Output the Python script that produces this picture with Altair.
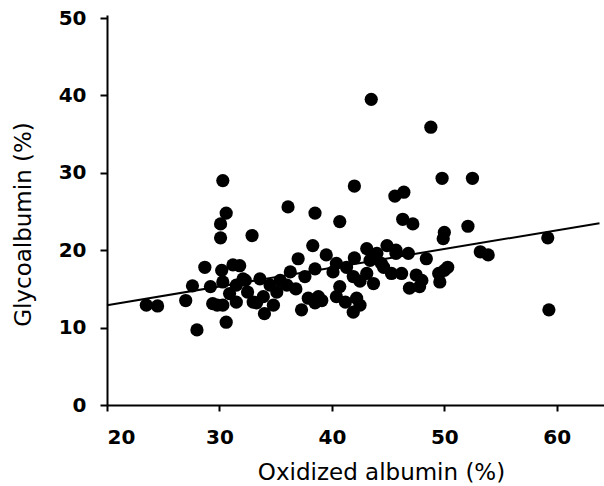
import altair as alt
import pandas as pd

# Oxidized albumin (%) and Glycoalbumin (%)
ox = [43.5, 48.8, 30.3, 49.8, 52.5, 42.0, 45.6, 46.4, 36.1, 30.6,
      38.5, 40.7, 46.3, 47.2, 52.1, 50.0, 49.9, 30.1, 30.1, 32.9,
      59.2, 38.3, 53.2, 53.9, 39.5, 48.4, 59.3, 28.0, 30.6, 23.5,
      24.5, 27.0, 27.6,
      28.7, 30.2, 31.2, 31.8, 29.2, 30.3, 30.9, 31.5, 32.1, 29.4,
      30.3, 29.8, 31.5, 33.0, 32.5, 33.6, 34.5, 34.0, 34.8, 35.1,
      36.0, 36.3, 37.0, 37.6, 38.5, 37.3, 37.9, 38.8, 33.3, 32.3,
      35.4, 33.9, 36.8, 38.5,
      43.1, 44.9, 45.7, 46.8, 40.4, 41.3, 43.4, 43.1, 44.6, 45.3,
      46.2, 40.1, 41.9, 43.7, 40.7, 40.4, 41.2, 42.2, 42.5, 41.9,
      39.1, 47.5, 48.0, 46.9, 47.8, 49.5, 50.3, 49.6, 50.0, 44.0,
      42.5, 44.4, 45.7, 42.0]
gly = [39.5, 35.9, 29.0, 29.3, 29.3, 28.3, 27.0, 27.5, 25.6, 24.8,
       24.8, 23.7, 24.0, 23.4, 23.1, 22.3, 21.5, 23.4, 21.6, 21.9,
       21.6, 20.6, 19.8, 19.4, 19.4, 18.9, 12.3, 9.7, 10.7, 12.9,
       12.8, 13.5, 15.4,
       17.8, 17.4, 18.1, 18.0, 15.3, 15.9, 14.4, 15.5, 16.3, 13.1,
       12.9, 12.9, 13.3, 13.3, 14.6, 16.3, 15.5, 11.8, 12.9, 14.6,
       15.5, 17.2, 18.9, 16.6, 17.6, 12.3, 13.8, 14.0, 13.2, 16.1,
       16.1, 14.0, 15.0, 13.2,
       20.2, 20.6, 20.0, 19.6, 18.3, 17.8, 18.7, 17.0, 17.8, 17.0,
       17.0, 17.2, 16.6, 15.7, 15.3, 14.0, 13.3, 13.8, 12.9, 12.0,
       13.5, 16.8, 16.1, 15.1, 15.3, 17.0, 17.8, 15.9, 17.4, 19.6,
       16.0, 18.3, 19.6, 19.0]

# fitted regression line (end points)
fit_x = [20.0, 63.8]
fit_y = [12.9, 23.5]

y_ticks = [0, 5, 10, 15, 20, 25, 30, 35, 40, 45, 50]
x_ticks = [20, 30, 40, 50, 60]

pts = pd.DataFrame({"ox": ox, "gly": gly})
fit = pd.DataFrame({"ox": fit_x, "gly": fit_y})

xscale = alt.Scale(domain=[20, 64.2], nice=False, zero=False)
yscale = alt.Scale(domain=[0, 50.4], nice=False)

xaxis = alt.Axis(values=x_ticks, title="Oxidized albumin (%)", grid=False,
                 domainColor="black", domainWidth=2, tickColor="black",
                 tickWidth=2, tickSize=6, labelFont="DejaVu Sans",
                 labelFontWeight="bold", labelFontSize=20, labelColor="black",
                 labelPadding=16, titleFont="DejaVu Sans", titleFontSize=23,
                 titleFontWeight="normal", titleColor="black",
                 titleX=274, titleY=74, titleBaseline="alphabetic")
yaxis = alt.Axis(values=y_ticks, title="Glycoalbumin (%)", grid=False,
                 labelExpr="datum.value % 10 == 0 ? datum.label : ''",
                 domainColor="black", domainWidth=2, tickColor="black",
                 tickWidth=2, tickSize=7, labelFont="DejaVu Sans",
                 labelFontWeight="bold", labelFontSize=20, labelColor="black",
                 labelPadding=14, titleFont="DejaVu Sans", titleFontSize=23,
                 titleFontWeight="normal", titleColor="black",
                 titleX=-72, titleY=209)

points = alt.Chart(pts).mark_circle(color="black", opacity=1, size=175).encode(
    x=alt.X("ox:Q", scale=xscale, axis=xaxis),
    y=alt.Y("gly:Q", scale=yscale, axis=yaxis),
)
line = alt.Chart(fit).mark_line(color="black", strokeWidth=2).encode(
    x=alt.X("ox:Q", scale=xscale),
    y=alt.Y("gly:Q", scale=yscale),
)

chart = (line + points).properties(
    width=497, height=390,
    autosize=alt.AutoSizeParams(type="none"),
    padding={"left": 107, "top": 15, "right": 0, "bottom": 81},
    background="white",
).configure_view(stroke=None)

chart.save("out.html", embed_options={"renderer": "svg", "actions": False})
